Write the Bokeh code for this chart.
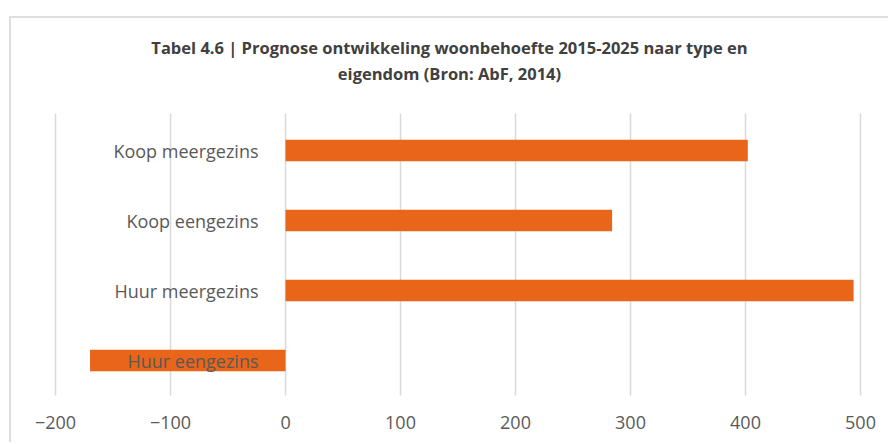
from bokeh.plotting import figure
from bokeh.models import Range1d, FixedTicker, ColumnDataSource, Label
from bokeh.core.properties import value
from bokeh.embed import file_html
from bokeh.resources import INLINE

# data (bottom to top)
categories = ["Huur eengezins", "Huur meergezins", "Koop eengezins", "Koop meergezins"]
values = [-170, 494, 284, 402]
ticks = [-200, -100, 0, 100, 200, 300, 400, 500]
title_line1 = "Tabel 4.6 | Prognose ontwikkeling woonbehoefte 2015-2025 naar type en"
title_line2 = "eigendom (Bron: AbF, 2014)"

W, H = 879, 426
ML, MR, MT, MB = 10, 20, 0, 49
ROW_PX = 70.0
frame_h = H - MT - MB
n = len(categories)

p = figure(width=W, height=H, output_backend="svg", toolbar_location=None,
           x_range=Range1d(-229.6, 508.7),
           y_range=Range1d(-0.5, -0.5 + frame_h / ROW_PX),
           min_border_left=ML, min_border_right=MR, min_border_top=MT, min_border_bottom=MB)
p.styles = {"margin-left": "9px", "margin-top": "16px",
            "border-left": "2px solid #dedede", "border-top": "2px solid #dedede"}
p.title.visible = False
p.outline_line_color = None
p.background_fill_color = "white"
p.border_fill_color = "white"

# vertical gridlines spanning only the category band
gsrc = ColumnDataSource(dict(x=ticks, y0=[-0.53] * len(ticks), y1=[n - 0.47] * len(ticks)))
p.segment(x0="x", x1="x", y0="y0", y1="y1", source=gsrc,
          line_color="#d9d9d9", line_width=1.5)

ypos = list(range(n))
src = ColumnDataSource(dict(y=ypos, v=values, cat=categories, zero=[0] * n))

p.hbar(y="y", left="zero", right="v", height=0.31, source=src,
       fill_color="#E8651A", line_color=None)

p.text(x="zero", y="y", text="cat", source=src, x_offset=-27,
       text_align="right", text_baseline="middle", text_color="#595959",
       text_font=value("Open Sans"), text_font_size="18px")

p.yaxis.visible = False
p.ygrid.visible = False
p.xgrid.visible = False

xa = p.xaxis[0]
xa.ticker = FixedTicker(ticks=ticks)
xa.axis_line_color = None
xa.major_tick_line_color = None
xa.minor_tick_line_color = None
xa.major_label_standoff = 14
xa.major_label_text_color = "#595959"
xa.major_label_text_font = "Open Sans"
xa.major_label_text_font_size = "18px"

for txt, yy in [(title_line1, 348), (title_line2, 322)]:
    p.add_layout(Label(x=428, y=yy, x_units="screen", y_units="screen", text=txt,
                       text_align="center", text_baseline="middle",
                       text_font="Open Sans", text_font_style="bold",
                       text_font_size="16.5px", text_color="#404040"))

open("out.html", "w").write(file_html(p, INLINE))
